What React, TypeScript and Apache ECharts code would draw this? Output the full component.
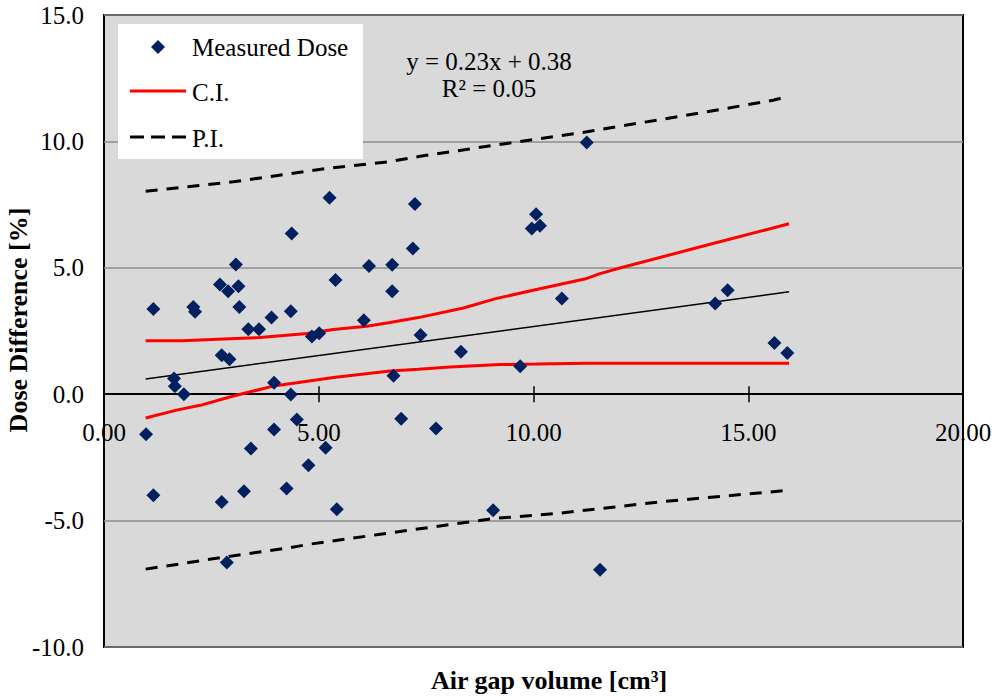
import { useEffect, useRef } from "react";
import * as echarts from "echarts";

// Measured points (Air gap volume [cm3], Dose difference [%])
const airGap = [
  0.98, 1.15, 1.15, 1.63, 1.65, 1.86, 2.08, 2.12, 2.7, 2.74, 2.74, 2.86, 2.89, 2.92, 3.07, 3.13, 3.15, 3.26, 3.36, 3.42,
  3.61, 3.9, 3.96, 3.96, 4.25, 4.35, 4.35, 4.37, 4.49, 4.76, 4.84, 5.01, 5.16, 5.25, 5.39, 5.42, 6.05, 6.17, 6.71, 6.71,
  6.74, 6.92, 7.19, 7.24, 7.37, 7.73, 8.31, 9.06, 9.69, 9.96, 10.06, 10.15, 10.66, 11.24, 11.55, 14.23, 14.52, 15.61, 15.91,
];
const doseDiff = [
  -1.58, 3.37, -4.0, 0.62, 0.31, 0.0, 3.45, 3.26, 4.34, 1.54, -4.26, -6.66, 4.07, 1.38, 5.13, 4.27, 3.45, -3.84, 2.57, -2.15,
  2.57, 3.03, 0.45, -1.4, -3.73, 3.28, -0.01, 6.36, -1.0, -2.81, 2.28, 2.41, -2.12, 7.77, 4.52, -4.55, 2.93, 5.07, 5.12, 4.07,
  0.73, -0.97, 5.76, 7.52, 2.34, -1.36, 1.68, -4.59, 1.11, 6.55, 7.12, 6.66, 3.79, 9.96, -6.94, 3.59, 4.11, 2.03, 1.63,
];

// Linear trend line endpoints
const trendX = [0.97, 15.95];
const trendY = [0.6, 4.05];

// Confidence interval
const ciUpperX = [0.97, 1.81, 2.93, 3.63, 4.25, 4.72, 5.34, 6.12, 6.66, 7.32, 8.37, 9.14, 10.07, 11.24, 11.55, 12.01, 14.0, 15.95];
const ciUpperY = [2.11, 2.11, 2.19, 2.24, 2.33, 2.4, 2.56, 2.69, 2.84, 3.03, 3.41, 3.79, 4.14, 4.58, 4.77, 4.99, 5.88, 6.74];
const ciLowerX = [0.97, 1.69, 2.24, 3.01, 3.94, 4.49, 5.34, 6.66, 7.32, 8.06, 9.22, 10.07, 11.24, 15.95];
const ciLowerY = [-0.94, -0.63, -0.44, -0.07, 0.32, 0.45, 0.66, 0.92, 0.99, 1.08, 1.17, 1.19, 1.22, 1.22];

// Prediction interval
const piUpperX = [0.97, 3.01, 5.18, 6.62, 7.36, 9.38, 11.24, 12.01, 13.8, 15.58, 15.95];
const piUpperY = [8.03, 8.4, 8.93, 9.19, 9.41, 9.92, 10.38, 10.6, 11.1, 11.63, 11.79];
const piLowerX = [0.97, 2.7, 4.29, 4.8, 6.39, 9.06, 10.54, 12.94, 15.95];
const piLowerY = [-6.92, -6.47, -6.08, -5.93, -5.55, -4.92, -4.72, -4.26, -3.8];

const legendNames = ["Measured Dose", "C.I.", "P.I."];
const equationText = "y = 0.23x + 0.38";
const r2Text = "R² = 0.05";
const xTitle = "Air gap volume [cm³]";
const yTitle = "Dose Difference [%]";

const zip = (xs: number[], ys: number[]) => xs.map((x, i) => [x, ys[i]]);

export default function App() {
  const ref = useRef<HTMLDivElement>(null);
  useEffect(() => {
    const chart = echarts.init(ref.current!, null, { renderer: "svg" });
    const font = "'Liberation Serif', 'Times New Roman', serif";
    const navy = "#002060";
    const piStyle = { color: "#000", width: 3, type: [12, 9] as number[] };
    const ciStyle = { color: "#FF0000", width: 3 };
    // grid geometry: plot spans y=15..647 for 15..-10, so the zero line sits 253px above the bottom edge
    const gridTop = 15;
    const gridBottom = 51;
    const plotH = 698 - gridTop - gridBottom;
    const zeroFromBottom = (plotH * 10) / 25;
    const txt = (text: string, x: number, y: number, size: number, extra: any = {}) => ({
      type: "text",
      x,
      y,
      z: 100,
      rotation: extra.rotation || 0,
      style: {
        text,
        fontFamily: font,
        fontSize: size,
        fontWeight: extra.bold ? "bold" : "normal",
        fill: "#000",
        align: extra.align || "center",
        verticalAlign: "middle",
      },
    });
    chart.setOption({
      animation: false,
      backgroundColor: "#fff",
      grid: {
        left: 104,
        top: gridTop,
        right: 34,
        bottom: gridBottom,
        show: true,
        backgroundColor: "#D9D9D9",
        borderColor: "#000",
        borderWidth: 2,
      },
      xAxis: [
        {
          type: "value",
          min: 0,
          max: 20,
          interval: 5,
          position: "bottom",
          offset: -zeroFromBottom,
          axisLine: { onZero: false, lineStyle: { color: "#000", width: 2 } },
          axisTick: { show: true, length: 8, lineStyle: { color: "#000", width: 1.5 } },
          axisLabel: {
            margin: 26,
            fontSize: 25,
            fontFamily: font,
            color: "#000",
            showMinLabel: true,
            showMaxLabel: true,
            formatter: (v: number) => v.toFixed(2),
          },
          splitLine: { show: false },
        },
        {
          type: "value",
          min: 0,
          max: 20,
          interval: 5,
          position: "top",
          offset: -(plotH - zeroFromBottom),
          axisLine: { onZero: false, lineStyle: { color: "#000", width: 2 } },
          axisTick: { show: true, length: 8, lineStyle: { color: "#000", width: 1.5 } },
          axisLabel: { show: false },
          splitLine: { show: false },
        },
      ],
      yAxis: {
        type: "value",
        min: -10,
        max: 15,
        interval: 5,
        axisLine: { show: false, onZero: false },
        axisTick: { show: false },
        axisLabel: {
          margin: 20,
          fontSize: 25,
          fontFamily: font,
          color: "#000",
          formatter: (v: number) => v.toFixed(1),
        },
        splitLine: { show: true, lineStyle: { color: "#8C8C8C", width: 1.5 } },
      },
      graphic: [
        // legend box
        { type: "rect", shape: { x: 118, y: 24, width: 245, height: 135 }, style: { fill: "#fff" }, z: 90 },
        {
          type: "polygon",
          z: 95,
          shape: { points: [[158, 40], [165, 47], [158, 54], [151, 47]] },
          style: { fill: navy },
        },
        { type: "line", z: 95, shape: { x1: 130, y1: 91, x2: 186, y2: 91 }, style: { stroke: "#FF0000", lineWidth: 3 } },
        {
          type: "line",
          z: 95,
          shape: { x1: 130, y1: 137, x2: 186, y2: 137 },
          style: { stroke: "#000", lineWidth: 3, lineDash: [14, 7] },
        },
        txt(legendNames[0], 192, 47, 25, { align: "left" }),
        txt(legendNames[1], 192, 92, 25, { align: "left" }),
        txt(legendNames[2], 192, 138, 25, { align: "left" }),
        txt(equationText, 489, 61, 25),
        txt(r2Text, 489, 88, 25),
        txt(xTitle, 549, 680, 26, { bold: true }),
        txt(yTitle, 18, 320, 26, { bold: true, rotation: Math.PI / 2 }),
      ],
      series: [
        { name: legendNames[2], type: "line", data: zip(piUpperX, piUpperY), symbol: "none", lineStyle: piStyle, itemStyle: { color: "#000" }, z: 2 },
        { name: legendNames[2], type: "line", data: zip(piLowerX, piLowerY), symbol: "none", lineStyle: piStyle, itemStyle: { color: "#000" }, z: 2 },
        { name: legendNames[1], type: "line", data: zip(ciUpperX, ciUpperY), symbol: "none", lineStyle: ciStyle, itemStyle: { color: "#FF0000" }, z: 2 },
        { name: legendNames[1], type: "line", data: zip(ciLowerX, ciLowerY), symbol: "none", lineStyle: ciStyle, itemStyle: { color: "#FF0000" }, z: 2 },
        {
          name: "Linear (Measured Dose)",
          type: "line",
          data: zip(trendX, trendY),
          symbol: "none",
          lineStyle: { color: "#000", width: 1.5 },
          itemStyle: { color: "#000" },
          z: 2,
        },
        {
          name: legendNames[0],
          type: "scatter",
          data: zip(airGap, doseDiff),
          symbol: "diamond",
          symbolSize: 14,
          itemStyle: { color: navy, opacity: 1 },
          z: 5,
        },
      ],
    });
    return () => chart.dispose();
  }, []);
  return <div ref={ref} style={{ position: "fixed", left: 0, top: 0, width: 997, height: 698 }} />;
}
